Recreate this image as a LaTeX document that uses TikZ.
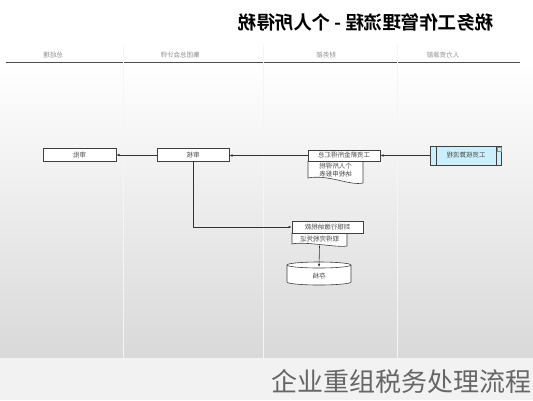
\documentclass[tikz,border=0pt]{standalone}
\usepackage{fontspec}
\usepackage{graphicx}
\usepackage{xcolor}
\newfontfamily\cjk{Noto Sans CJK SC}[BoldFont={Noto Sans CJK SC Bold}]
\usetikzlibrary{arrows.meta,shadows}
\newcommand{\mirtext}[1]{\reflectbox{#1}}

\tikzset{
  taskbox/.style={draw=black!75, fill=white, line width=0.6pt, inner sep=0pt,
    drop shadow={shadow xshift=0.7pt,shadow yshift=-0.7pt,fill=black!65,opacity=1},
    font=\cjk\fontsize{6.5}{7}\selectfont, text=black!70},
  doctext/.style={inner sep=0pt, align=center, font=\cjk\fontsize{6.5}{7.5}\selectfont, text=black!70},
  docline/.style={draw=black!75, fill=white, line width=0.6pt},
  flow/.style={draw=black!80, line width=0.6pt, -{Latex[length=3.2pt,width=2.6pt]}},
  lanehead/.style={font=\cjk\fontsize{6.5}{7}\selectfont, text=black!45},
  lanesep/.style={draw=black!4, line width=0.5pt}
}

\begin{document}
\begin{tikzpicture}[x=1pt,y=-1pt]
\useasboundingbox (0,0) rectangle (533,400);
% backdrop
\fill[white] (0,0) rectangle (533,400);
\shade[top color=white, bottom color=black!15] (0,62) rectangle (533,358);
\fill[black!5] (0,358) rectangle (533,400);

% title and lanes
\node[font=\cjk\bfseries\fontsize{18.5}{18.5}\selectfont] (title) at (366,22) {\mirtext{税务工作管理流程 - 个人所得税}};
\node[lanehead] (laneceo) at (53,55) {\mirtext{总经理}};
\node[lanehead] (lanecfo) at (180,55) {\mirtext{集团总会计师}};
\node[lanehead] (lanefin) at (326,55) {\mirtext{财务部}};
\node[lanehead] (lanehr) at (443,55) {\mirtext{人力资源部}};
\draw[black!70, line width=0.7pt] (6,62) -- (520,62);
\foreach \lx in {123,263,397} {
  \draw[lanesep] (\lx,45) -- (\lx,358);
}

% human resources
\node[taskbox, fill=cyan!20, minimum width=71pt, minimum height=19pt] (payroll) at (466,155.5) {\mirtext{工资核算流程}};
\draw[black!75, line width=0.5pt] ([xshift=6pt]payroll.north west) -- ([xshift=6pt]payroll.south west);
\draw[black!75, line width=0.5pt] ([xshift=-6pt]payroll.north east) -- ([xshift=-6pt]payroll.south east);
\draw[black!45, line width=0.3pt] ([xshift=-5pt,yshift=-1pt]payroll.north east) rectangle ++(4,4);

% finance department
\draw[docline] (308,161) -- (363,161) -- (363,183) .. controls (350,186) and (328,174) .. (308,178) -- cycle;
\node[doctext] (taxform) at (335.5,170) {\mirtext{个人所得税}\\\mirtext{纳税申报表}};
\node[taskbox, minimum width=72pt, minimum height=11pt] (sumdoc) at (344,155.5) {\mirtext{工资薪金所得汇总}};

\draw[docline] (292,233) -- (347,233) -- (347,246) .. controls (338,248) and (305,241) .. (292,244) -- cycle;
\node[doctext, minimum height=12pt] (receipt) at (319.5,239.5) {\mirtext{取得完税凭证}};
\node[taskbox, minimum width=71pt, minimum height=12pt] (bank) at (327.5,227) {\mirtext{到银行缴纳税款}};

\fill[white] (287,265) -- (287,282) arc[start angle=180,end angle=0,x radius=32,y radius=3] -- (351,265) -- cycle;
\draw[black!75, line width=0.6pt] (287,265) -- (287,282) arc[start angle=180,end angle=0,x radius=32,y radius=3] -- (351,265);
\draw[black!75, line width=0.6pt, fill=white] (319,265) ellipse[x radius=32,y radius=3];
\node[doctext] (archive) at (319,276) {\mirtext{存档}};
\coordinate (archtop) at (319,267);

% approvals
\node[taskbox, minimum width=72pt, minimum height=13pt] (approve) at (193,155) {\mirtext{审核}};
\node[taskbox, minimum width=73pt, minimum height=13pt] (ceo) at (79.5,155) {\mirtext{审批}};

% connectors
\draw[flow] (payroll.west) -- (payroll.west -| sumdoc.east);
\draw[flow] (sumdoc.west) -- (sumdoc.west -| approve.east);
\draw[flow] (approve.west) -- (ceo.east);
\draw[flow] (approve.south) |- (bank.west);
\draw[flow] (receipt.south) -- (archtop);

% caption
\node[font=\cjk\fontsize{26}{26}\selectfont, text=black!60] (caption) at (401,382) {企业重组税务处理流程};
\end{tikzpicture}
\end{document}
